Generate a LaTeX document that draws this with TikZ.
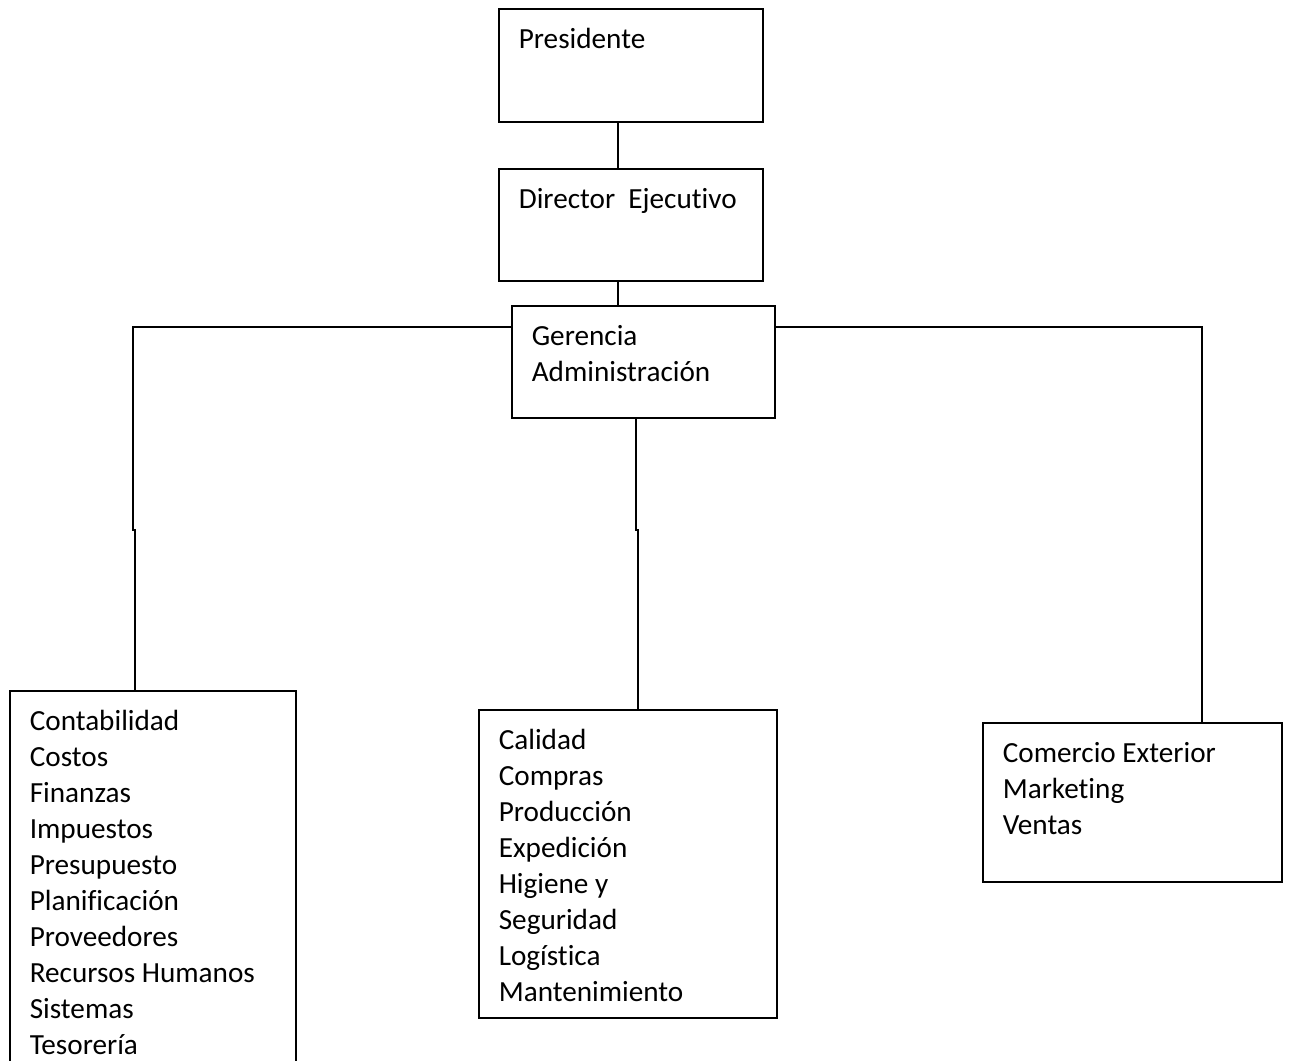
\documentclass[tikz,border=0pt]{standalone}
\usepackage{fontspec}
\setmainfont{Carlito}[Ligatures=NoCommon]
% text block anchored at the top of a box of fixed size
\newcommand{\orgtext}[3]{\parbox[c][#2][t]{#1}{\strut #3}}
\begin{document}
\begin{tikzpicture}[x=1pt,y=-1pt,
  orgbox/.style={draw, line width=1.6pt, anchor=north west, inner xsep=20pt,
    inner ysep=14.2pt, font=\fontsize{29.2}{36}\selectfont},
  link/.style={line width=1.6pt}]
\useasboundingbox (0,0) rectangle (1289,1060);
\clip (0,0) rectangle (1289,1060);
\fill[white] (0,0) rectangle (1289,1060);

% management chain
\node[orgbox] (pres) at (498,8)   {\orgtext{224pt}{84.6pt}{Presidente}};
\node[orgbox] (dir)  at (498,168) {\orgtext{224pt}{83.6pt}{Director\ \ Ejecutivo}};
\node[orgbox] (ger)  at (511,305) {\orgtext{223pt}{83.6pt}{Gerencia\\Administración}};

% departments
\node[orgbox] (acc)  at (9,690)   {\orgtext{246pt}{351.6pt}{Contabilidad\\Costos\\Finanzas\\Impuestos\\Presupuesto\\Planificación\\Proveedores\\Recursos Humanos\\Sistemas\\Tesorería}};
\node[orgbox] (prod) at (478,709) {\orgtext{258pt}{279.6pt}{Calidad\\Compras\\Producción\\Expedición\\Higiene y\\Seguridad\\Logística\\Mantenimiento}};
\node[orgbox] (com)  at (982,722) {\orgtext{259pt}{130.6pt}{Comercio Exterior\\Marketing\\Ventas}};

% connectors
\coordinate (spine) at (618,0);
\coordinate (bar) at (0,327);
\coordinate (lA) at (133,531);
\coordinate (lB) at (135,529);
\coordinate (mA) at (636,531);
\coordinate (mB) at (638,529);
\coordinate (rA) at (1202,530);

\draw[link] (pres.south -| spine) -- (dir.north -| spine);
\draw[link] (dir.south -| spine) -- (ger.north -| spine);
\draw[link] (ger.west |- bar) -| (lA);
\draw[link] (lB) -- (acc.north -| lB);
\draw[link] (ger.south -| mA) -- (mA);
\draw[link] (mB) -- (prod.north -| mB);
\draw[link] (ger.east |- bar) -| (com.north -| rA);
\end{tikzpicture}
\end{document}
